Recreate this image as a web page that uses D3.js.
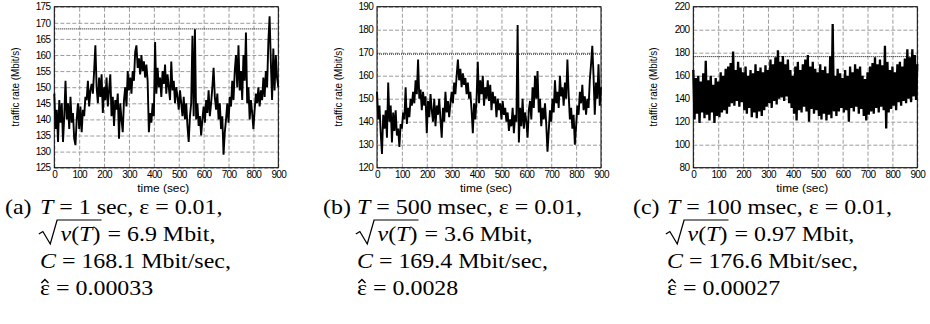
<!DOCTYPE html>
<html>
<head>
<meta charset="utf-8">
<script src="https://cdn.jsdelivr.net/npm/d3@7"></script>
<style>
body { margin: 0; background: #fff; }
svg { display: block; }
.tick text { font-family: "Liberation Sans", Arial, sans-serif; font-size: 10px; letter-spacing: -0.7px; fill: #000; }
.grid line { stroke: #9c9c9c; stroke-dasharray: 4,2; }
.cap { font-family: "Liberation Serif", "Times New Roman", serif; font-size: 21px; fill: #000; white-space: pre; }
.ax { font-family: "Liberation Sans", Arial, sans-serif; font-size: 10px; fill: #000; }
</style>
</head>
<body>
<svg width="930" height="324"></svg>
<script>
var svg = d3.select('svg');

// traffic rate samples, one value every 5 sec from 0 to 900
var sampleStep = 5;

var rateA = [
  148, 137, 143, 133, 146, 139, 145, 133, 141, 152,
  140, 145, 137, 147, 139, 142, 134, 132, 140, 145,
  137, 144, 136, 143, 141, 147, 146, 152, 144, 149,
  151, 148, 155, 163, 150, 145, 153, 147, 154, 142,
  150, 146, 153, 144, 149, 154, 141, 147, 138, 146,
  143, 148, 134, 145, 140, 136, 146, 150, 144, 155,
  149, 153, 148, 155, 152, 161, 163, 156, 159, 154,
  160, 155, 158, 153, 157, 152, 136, 142, 139, 145,
  141, 164, 148, 156, 150, 153, 147, 155, 151, 157,
  148, 154, 150, 146, 158, 149, 152, 145, 150, 147,
  143, 149, 145, 141, 147, 140, 145, 138, 133, 141,
  145, 166, 141, 168, 140, 145, 138, 141, 135, 140,
  144, 139, 146, 142, 149, 141, 145, 150, 156, 147,
  143, 148, 140, 145, 137, 141, 129, 136, 140, 145,
  139, 147, 144, 152, 146, 155, 160, 150, 163, 149,
  155, 146, 160, 152, 167, 145, 150, 140, 146, 142,
  137, 143, 148, 145, 150, 144, 149, 146, 153, 147,
  155, 150, 164, 172, 158, 146, 162, 149, 160, 153,
  150
];

var rateB = [
  153, 141, 147, 135, 126, 143, 137, 145, 133, 157,
  140, 147, 131, 144, 136, 145, 134, 137, 129, 139,
  137, 144, 141, 155, 139, 146, 142, 150, 147, 153,
  148, 158, 152, 167, 150, 154, 145, 153, 147, 151,
  135, 149, 142, 152, 145, 140, 150, 138, 147, 143,
  150, 141, 133, 146, 140, 153, 144, 149, 142, 148,
  153, 148, 157, 152, 160, 167, 158, 163, 155, 161,
  156, 159, 152, 157, 150, 153, 145, 135, 148, 141,
  150, 166, 148, 158, 152, 160, 147, 155, 150, 158,
  149, 156, 145, 153, 148, 151, 142, 150, 145, 148,
  141, 149, 143, 146, 140, 144, 136, 141, 138, 146,
  135, 143, 140, 182, 131, 146, 138, 150, 137, 144,
  140, 133, 145, 149, 141, 155, 146, 160, 150, 162,
  144, 150, 138, 146, 141, 148, 139, 127, 136, 145,
  140, 150, 144, 158, 148, 153, 146, 160, 151, 155,
  147, 157, 150, 167, 152, 141, 146, 137, 143, 130,
  138, 147, 143, 153, 148, 156, 145, 151, 143, 150,
  146, 158, 165, 173, 160, 143, 157, 150, 165, 147,
  155
];

var rateC = [
  165, 122, 158, 127, 160, 119, 155, 128, 162, 123,
  173, 126, 156, 121, 160, 128, 152, 119, 158, 125,
  155, 124, 163, 128, 160, 130, 166, 127, 168, 133,
  171, 136, 181, 134, 165, 138, 172, 133, 167, 137,
  163, 130, 168, 127, 160, 132, 165, 124, 162, 128,
  170, 123, 164, 129, 167, 125, 163, 130, 169, 133,
  165, 136, 174, 132, 170, 138, 176, 135, 182, 140,
  172, 141, 177, 138, 170, 142, 174, 136, 165, 132,
  160, 127, 168, 121, 172, 130, 165, 128, 170, 133,
  174, 129, 178, 120, 168, 131, 172, 127, 166, 130,
  163, 125, 170, 122, 165, 127, 168, 121, 162, 126,
  177, 123, 205, 129, 160, 125, 166, 129, 162, 132,
  158, 128, 165, 130, 160, 120, 168, 132, 163, 129,
  170, 133, 166, 127, 168, 131, 160, 125, 157, 121,
  163, 126, 168, 129, 171, 127, 176, 132, 170, 128,
  174, 133, 169, 130, 186, 114, 172, 128, 165, 131,
  168, 134, 163, 130, 170, 137, 172, 134, 168, 138,
  175, 136, 183, 140, 176, 137, 183, 142, 178, 139,
  170
];

var timeTicks = [0, 100, 200, 300, 400, 500, 600, 700, 800, 900];
var yTicksA = [125, 130, 135, 140, 145, 150, 155, 160, 165, 170, 175];
var yTicksB = [120, 130, 140, 150, 160, 170, 180, 190];
var yTicksC = [80, 100, 120, 140, 160, 180, 200, 220];
var capacity = [168.1, 169.4, 176.6];

var capLabel = ['(a)', '(b)', '(c)'];
var capT = ['1 sec', '500 msec', '100 msec'];
var capEps = ['0.01', '0.01', '0.01'];
var capSd = ['6.9', '3.6', '0.97'];
var capEpsHat = ['0.00033', '0.0028', '0.00027'];

var plotW = 224;
var plotTop = 6.7;
var plotBottom = 167.7;
var capScale = 1.14;
var capBase = [214, 241, 268, 295];

var panels = [
    { left: 54.3, rate: rateA, yTicks: yTicksA, lw: 1.9, titleX: 15, capX: 5, indent: 40 },
    { left: 377, rate: rateB, yTicks: yTicksB, lw: 1.9, titleX: 338, capX: 323, indent: 357 },
    { left: 693.3, rate: rateC, yTicks: yTicksC, lw: 2.3, titleX: 653, capX: 633, indent: 667 }
];

panels.forEach(function (p, i) {
    var x = d3.scaleLinear().domain([0, 900]).range([p.left, p.left + plotW]);
    var y = d3.scaleLinear().domain(d3.extent(p.yTicks)).range([plotBottom, plotTop]);

    svg.append('g')
        .attr('class', 'grid')
        .attr('transform', 'translate(0,' + plotBottom + ')')
        .call(d3.axisBottom(x).tickValues(timeTicks).tickSizeInner(-(plotBottom - plotTop)).tickSizeOuter(0).tickPadding(3))
        .call(function (g) { g.select('.domain').remove(); });

    svg.append('g')
        .attr('class', 'grid')
        .attr('transform', 'translate(' + p.left + ',0)')
        .call(d3.axisLeft(y).tickValues(p.yTicks).tickSizeInner(-plotW).tickSizeOuter(0).tickPadding(4))
        .call(function (g) { g.select('.domain').remove(); });

    // capacity C
    svg.append('line')
        .attr('x1', x(0)).attr('x2', x(900))
        .attr('y1', y(capacity[i])).attr('y2', y(capacity[i]))
        .attr('stroke', '#000')
        .attr('stroke-width', 1)
        .attr('stroke-dasharray', '1,1');

    var line = d3.line()
        .x(function (d, k) { return x(k * sampleStep); })
        .y(function (d) { return y(d); });

    svg.append('path')
        .datum(p.rate)
        .attr('d', line)
        .attr('fill', 'none')
        .attr('stroke', '#000')
        .attr('stroke-width', p.lw)
        .attr('stroke-linejoin', 'miter');

    svg.append('rect')
        .attr('x', p.left).attr('y', plotTop)
        .attr('width', plotW).attr('height', plotBottom - plotTop)
        .attr('fill', 'none')
        .attr('stroke', '#000');

    svg.append('text')
        .attr('class', 'ax')
        .attr('transform', 'translate(' + p.titleX + ',87) rotate(-90)')
        .attr('text-anchor', 'middle')
        .attr('dy', '0.35em')
        .attr('textLength', 79)
        .attr('lengthAdjust', 'spacingAndGlyphs')
        .text('traffic rate (Mbit/s)');

    svg.append('text')
        .attr('class', 'ax')
        .attr('x', p.left + plotW / 2 - 3)
        .attr('y', 192)
        .attr('text-anchor', 'middle')
        .attr('textLength', 52)
        .attr('lengthAdjust', 'spacingAndGlyphs')
        .text('time (sec)');

    // caption, a little wider than the plain font
    var cap = svg.append('g')
        .attr('transform', 'translate(' + p.capX + ',0) scale(' + capScale + ',1)');
    var ind = (p.indent - p.capX) / capScale;

    var l1 = cap.append('text').attr('class', 'cap').attr('y', capBase[0]);
    l1.append('tspan').attr('x', 0).text(capLabel[i]);
    l1.append('tspan').attr('x', ind).attr('font-style', 'italic').text('T');
    l1.append('tspan').text(' = ' + capT[i] + ', \u03b5 = ' + capEps[i] + ',');

    var b2 = capBase[1];
    var vt = cap.append('text').attr('class', 'cap').attr('x', ind + 18).attr('y', b2);
    vt.append('tspan').attr('font-style', 'italic').text('v');
    vt.append('tspan').text('(');
    vt.append('tspan').attr('font-style', 'italic').text('T');
    vt.append('tspan').text(')');
    var vtEnd = ind + 18 + vt.node().getComputedTextLength() + 1;
    cap.append('path')
        .attr('d', 'M' + (ind - 1) + ',' + (b2 - 7) + ' L' + (ind + 2.5) + ',' + (b2 - 9.5) +
            ' L' + (ind + 9) + ',' + (b2 + 3) + ' L' + (ind + 15) + ',' + (b2 - 21) + ' H' + vtEnd)
        .attr('fill', 'none')
        .attr('stroke', '#000')
        .attr('stroke-width', 1.1);
    cap.append('text').attr('class', 'cap').attr('x', vtEnd).attr('y', b2)
        .text(' = ' + capSd[i] + ' Mbit,');

    var l3 = cap.append('text').attr('class', 'cap').attr('x', ind).attr('y', capBase[2]);
    l3.append('tspan').attr('font-style', 'italic').text('C');
    l3.append('tspan').text(' = ' + capacity[i].toFixed(1) + ' Mbit/sec,');

    var b4 = capBase[3];
    cap.append('text').attr('class', 'cap').attr('x', ind).attr('y', b4)
        .text('\u03b5 = ' + capEpsHat[i]);
    // hat over epsilon
    cap.append('path')
        .attr('d', 'M' + (ind + 1.2) + ',' + (b4 - 12) + ' L' + (ind + 4.3) + ',' + (b4 - 15.5) + ' L' + (ind + 7.4) + ',' + (b4 - 12))
        .attr('fill', 'none')
        .attr('stroke', '#000')
        .attr('stroke-width', 1.2);
});
</script>
</body>
</html>
